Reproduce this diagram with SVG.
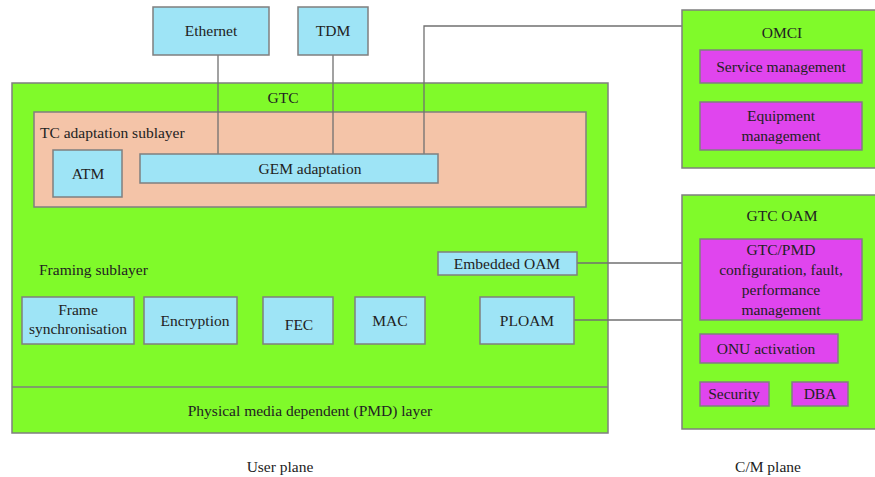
<svg xmlns="http://www.w3.org/2000/svg" width="875" height="477" viewBox="0 0 875 477">
<style>
.g{fill:#80FA2A;stroke:#7f7f7f;stroke-width:1.5}
.p{fill:#F4C4A8;stroke:#7f7f7f;stroke-width:1.5}
.b{fill:#9EE4F6;stroke:#7f7f7f;stroke-width:1.5}
.m{fill:#E045EE;stroke:#7f7f7f;stroke-width:1.5}
text{font-family:"Liberation Serif","Times New Roman",serif;font-size:15.5px;fill:#222}
.c{text-anchor:middle}
.ln{stroke:#707070;stroke-width:1.3;fill:none}
</style>
<rect width="875" height="477" fill="#fff"/>
<g id="gtc">
<rect class="g" x="12" y="83" width="596" height="350"/>
<line x1="12" y1="387" x2="608" y2="387" stroke="#7f7f7f" stroke-width="1.5"/>
<text class="c" x="283" y="103">GTC</text>
<text x="39" y="275">Framing sublayer</text>
<text class="c" x="310" y="416">Physical media dependent (PMD) layer</text>
</g>
<g id="tc">
<rect class="p" x="34" y="112" width="552" height="95"/>
<text x="40" y="138">TC adaptation sublayer</text>
</g>
<g id="connectors">
<polyline class="ln" points="218,55 218,154"/>
<polyline class="ln" points="333,55 333,154"/>
<polyline class="ln" points="424,154 424,26 682,26"/>
<polyline class="ln" points="577,263 682,263"/>
<polyline class="ln" points="574,320 682,320"/>
</g>
<g id="ethernet"><rect class="b" x="153" y="7" width="116" height="48"/><text class="c" x="211" y="36">Ethernet</text></g>
<g id="tdm"><rect class="b" x="298" y="7" width="70" height="48"/><text class="c" x="333" y="36">TDM</text></g>
<g id="atm"><rect class="b" x="53" y="150" width="69" height="47"/><text class="c" x="88" y="179">ATM</text></g>
<g id="gem"><rect class="b" x="140" y="154" width="298" height="29"/><text class="c" x="310" y="174">GEM adaptation</text></g>
<g id="eoam"><rect class="b" x="438" y="252" width="139" height="23"/><text class="c" x="507" y="269">Embedded OAM</text></g>
<g id="framesync"><rect class="b" x="22" y="297" width="112" height="47"/><text class="c" x="78" y="315">Frame</text><text class="c" x="78" y="334">synchronisation</text></g>
<g id="encryption"><rect class="b" x="144" y="297" width="93" height="47"/><text class="c" x="195" y="326">Encryption</text></g>
<g id="fec"><rect class="b" x="263" y="297" width="70" height="47"/><text class="c" x="299" y="330">FEC</text></g>
<g id="mac"><rect class="b" x="355" y="297" width="70" height="47"/><text class="c" x="390" y="326">MAC</text></g>
<g id="ploam"><rect class="b" x="480" y="297" width="94" height="47"/><text class="c" x="527" y="326">PLOAM</text></g>
<g id="omci">
<rect class="g" x="682" y="10" width="200" height="158"/>
<text class="c" x="782" y="38">OMCI</text>
</g>
<g id="service"><rect class="m" x="700" y="50" width="162" height="33"/><text class="c" x="781" y="72">Service management</text></g>
<g id="equipment"><rect class="m" x="700" y="102" width="162" height="48"/><text class="c" x="781" y="121">Equipment</text><text class="c" x="781" y="141">management</text></g>
<g id="gtcoam">
<rect class="g" x="682" y="195" width="200" height="234"/>
<text class="c" x="782" y="221">GTC OAM</text>
</g>
<g id="gtcpmd"><rect class="m" x="700" y="239" width="162" height="81"/><text class="c" x="781" y="255">GTC/PMD</text><text class="c" x="781" y="275">configuration, fault,</text><text class="c" x="781" y="295">performance</text><text class="c" x="781" y="315">management</text></g>
<g id="onu"><rect class="m" x="700" y="334" width="138" height="29"/><text class="c" x="766" y="354">ONU activation</text></g>
<g id="security"><rect class="m" x="700" y="382" width="69" height="24"/><text class="c" x="734" y="399">Security</text></g>
<g id="dba"><rect class="m" x="792" y="382" width="56" height="24"/><text class="c" x="820" y="399">DBA</text></g>
<g id="labels">
<text class="c" x="280" y="472">User plane</text>
<text class="c" x="768" y="472">C/M plane</text>
</g>
</svg>
